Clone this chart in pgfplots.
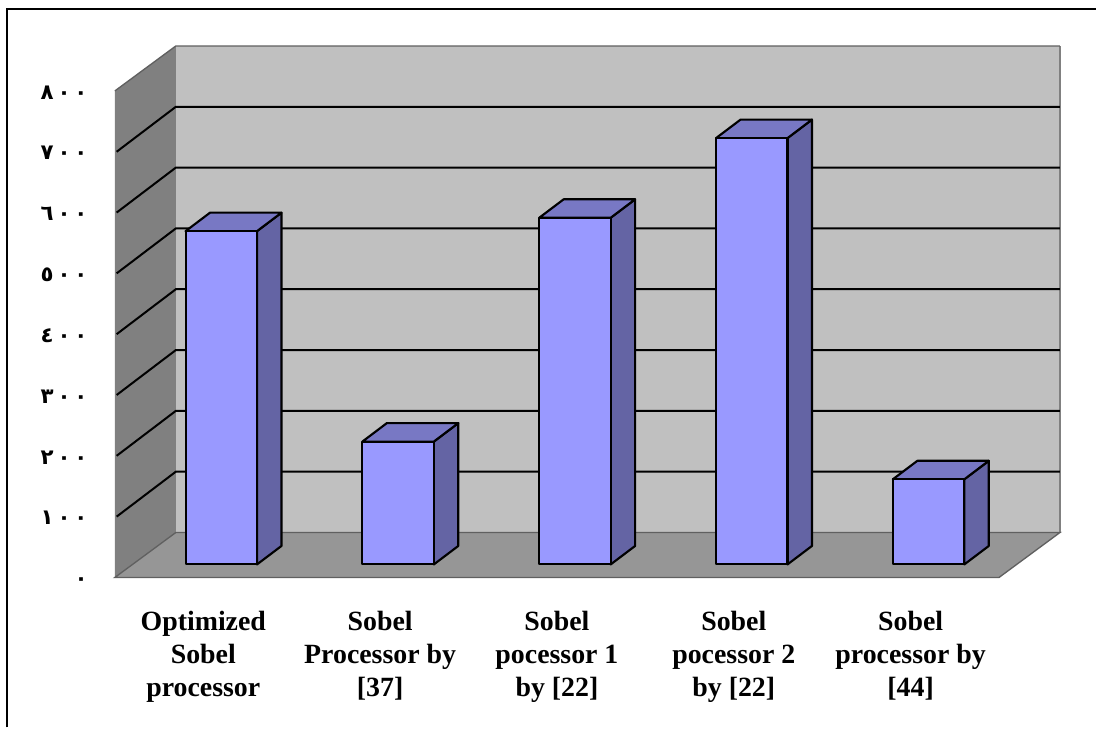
\documentclass[border=0pt]{standalone}
\usepackage{fontspec}
\usepackage{pgfplots}
\pgfplotsset{compat=1.18}
\TeXXeTstate=1
\setmainfont{Liberation Serif}
\newfontfamily\arabicfont[Script=Arabic]{DejaVu Sans}

\definecolor{wallback}{HTML}{C0C0C0}
\definecolor{wallside}{HTML}{808080}
\definecolor{floorc}{HTML}{969696}
\definecolor{edgec}{HTML}{606060}
\definecolor{barfront}{HTML}{9999FF}
\definecolor{bartop}{HTML}{7878C4}
\definecolor{barside}{HTML}{6464A4}

% Depth of the chart box, in data units
\def\boxdx{0.3446}
\def\boxdy{73.9}
% One bar: category position, value
\newcommand{\threedbar}[2]{%
  \pgfmathsetmacro\xl{#1+0.1017-0.2020}%
  \pgfmathsetmacro\xr{#1+0.1017+0.2020}%
  \pgfmathsetmacro\xlb{\xl+0.1384}%
  \pgfmathsetmacro\xrb{\xr+0.1384}%
  \pgfmathsetmacro\yb{21.4}%
  \pgfmathsetmacro\yt{21.4+#2}%
  \pgfmathsetmacro\ybb{\yb+30.4}%
  \pgfmathsetmacro\ytb{\yt+30.4}%
  \addplot[fill=barside,draw=black,line width=1.6pt,line join=round]
    coordinates {(\xr,\yb)(\xrb,\ybb)(\xrb,\ytb)(\xr,\yt)} -- cycle;
  \addplot[fill=bartop,draw=black,line width=1.6pt,line join=round]
    coordinates {(\xl,\yt)(\xlb,\ytb)(\xrb,\ytb)(\xr,\yt)} -- cycle;
  \addplot[fill=barfront,draw=black,line width=1.6pt,line join=round]
    coordinates {(\xl,\yb)(\xr,\yb)(\xr,\yt)(\xl,\yt)} -- cycle;
}
% One gridline across the side wall and the back wall
\newcommand{\gridat}[1]{%
  \pgfmathsetmacro\yg{#1+\boxdy}%
  \addplot[draw=black,line width=1.5pt]
    coordinates {(-0.49,#1)(-0.5+\boxdx,\yg)(4.5+\boxdx,\yg)};
}

\begin{document}
\begin{tikzpicture}
  \path[fill=white] (0,0) rectangle (822.75pt,546pt);
  \draw[black,line width=1.6pt] (5.25pt,0pt) -- (5.25pt,539.25pt) -- (822.75pt,539.25pt);
  \begin{axis}[
    at={(86.25pt,112.5pt)},
    anchor=south west,
    scale only axis,
    width=663.75pt,
    height=365.25pt,
    xmin=-0.5, xmax=4.5,
    ymin=0, ymax=800,
    clip=false,
    axis line style={draw=none},
    tick style={draw=none},
    xtick={0,1,2,3,4},
    xticklabels={
      Optimized\\Sobel\\processor,
      Sobel\\Processor by\\{[37]},
      Sobel\\pocessor 1\\by [22],
      Sobel\\pocessor 2\\by [22],
      Sobel\\processor by\\{[44]}},
    xticklabel style={align=center,font=\fontsize{20.9}{24.75}\selectfont\bfseries,
      yshift=-21.5pt, text depth=0pt},
    ytick={0,100,200,300,400,500,600,700,800},
    yticklabels={\beginR\beginL ٠\endL\endR,
      \beginR\beginL ١\hspace{3pt}٠\hspace{3pt}٠\endL\endR,
      \beginR\beginL ٢\hspace{3pt}٠\hspace{3pt}٠\endL\endR,
      \beginR\beginL ٣\hspace{3pt}٠\hspace{3pt}٠\endL\endR,
      \beginR\beginL ٤\hspace{3pt}٠\hspace{3pt}٠\endL\endR,
      \beginR\beginL ٥\hspace{3pt}٠\hspace{3pt}٠\endL\endR,
      \beginR\beginL ٦\hspace{3pt}٠\hspace{3pt}٠\endL\endR,
      \beginR\beginL ٧\hspace{3pt}٠\hspace{3pt}٠\endL\endR,
      \beginR\beginL ٨\hspace{3pt}٠\hspace{3pt}٠\endL\endR},
    yticklabel style={font=\arabicfont\fontsize{16}{16}\selectfont\bfseries,
      anchor=east, xshift=-17pt, text height=13pt, text depth=0pt, yshift=0.3pt},
  ]
    % Side wall, back wall, floor
    \pgfmathsetmacro\bx{-0.5+\boxdx}
    \pgfmathsetmacro\brx{4.5+\boxdx}
    \pgfmathsetmacro\bt{800+\boxdy}
    \addplot[fill=wallside,draw=none]
      coordinates {(-0.5,0)(\bx,\boxdy)(\bx,\bt)(-0.5,800)} -- cycle;
    \addplot[fill=wallback,draw=none]
      coordinates {(\bx,\boxdy)(\brx,\boxdy)(\brx,\bt)(\bx,\bt)} -- cycle;
    \addplot[draw=wallside,line width=0.9pt]
      coordinates {(\brx,\boxdy)(\brx,\bt)};
    \addplot[draw=edgec,line width=1pt]
      coordinates {(-0.5,800)(\bx,\bt)(\brx,\bt)};
    \addplot[fill=floorc,draw=edgec,line width=1pt]
      coordinates {(-0.5,0)(4.5,0)(\brx,\boxdy)(\bx,\boxdy)} -- cycle;
    \gridat{100}
    \gridat{200}
    \gridat{300}
    \gridat{400}
    \gridat{500}
    \gridat{600}
    \gridat{700}
    % Bars
    \threedbar{0}{548}
    \threedbar{1}{202}
    \threedbar{2}{570}
    \threedbar{3}{701}
    \threedbar{4}{140}
  \end{axis}
\end{tikzpicture}
\end{document}
